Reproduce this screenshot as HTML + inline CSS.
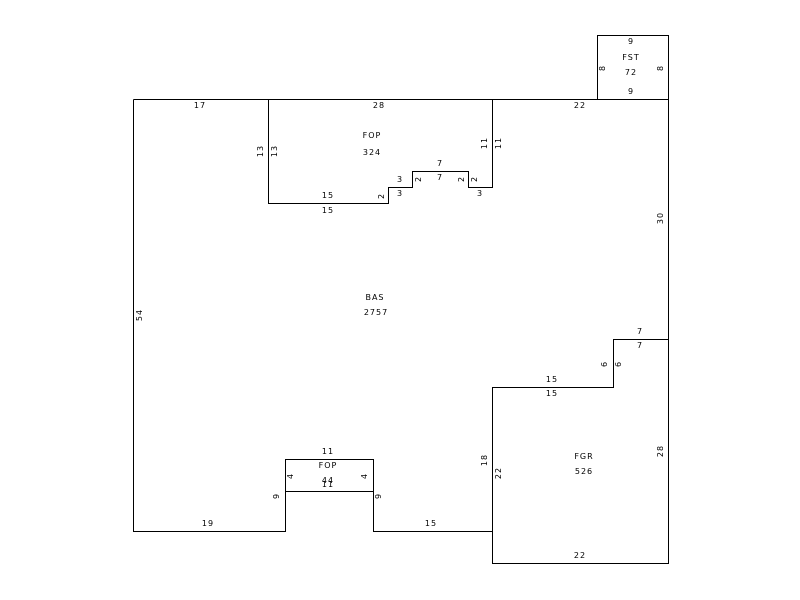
<!DOCTYPE html>
<html><head><style>
html,body{margin:0;padding:0;background:#fff;}
svg{display:block;}
text{font-family:"DejaVu Sans","Liberation Sans",sans-serif;font-size:8px;fill:#000;letter-spacing:1px;text-anchor:middle;}
</style></head><body>
<svg width="800" height="600" viewBox="0 0 800 600">
<g fill="none" stroke="#000" stroke-width="1">
<path d="M133.5 99.5 H668.5 V563.5 H492.5 V387.5 H613.5 V339.5 H668.5"/>
<path d="M133.5 99.5 V531.5 H285.5 V459.5 H373.5 V531.5 H492.5"/>
<path d="M285.5 491.5 H373.5"/>
<path d="M268.5 99.5 V203.5 H388.5 V187.5 H412.5 V171.5 H468.5 V187.5 H492.5 V99.5"/>
<path d="M597.5 99.5 V35.5 H668.5 V99.5"/>
</g>
<text x="200" y="108">17</text>
<text x="379" y="108">28</text>
<text x="580" y="108">22</text>
<text x="631" y="44">9</text>
<text x="631" y="75">72</text>
<text x="631" y="60">FST</text>
<text x="631" y="94">9</text>
<text transform="translate(605,68) rotate(-90)">8</text>
<text transform="translate(663,68) rotate(-90)">8</text>
<text x="372" y="138">FOP</text>
<text x="372" y="155">324</text>
<text transform="translate(263,151) rotate(-90)">13</text>
<text transform="translate(277,151) rotate(-90)">13</text>
<text transform="translate(487,143) rotate(-90)">11</text>
<text transform="translate(501,143) rotate(-90)">11</text>
<text x="328" y="198">15</text>
<text x="328" y="213">15</text>
<text transform="translate(384,196) rotate(-90)">2</text>
<text x="400" y="182">3</text>
<text x="400" y="196">3</text>
<text transform="translate(421,179) rotate(-90)">2</text>
<text x="440" y="166">7</text>
<text x="440" y="180">7</text>
<text transform="translate(464,179) rotate(-90)">2</text>
<text transform="translate(477,179) rotate(-90)">2</text>
<text x="480" y="196">3</text>
<text transform="translate(663,218) rotate(-90)">30</text>
<text transform="translate(142,315) rotate(-90)">54</text>
<text x="375" y="300">BAS</text>
<text x="376" y="315">2757</text>
<text x="640" y="334">7</text>
<text x="640" y="348">7</text>
<text transform="translate(607,364) rotate(-90)">6</text>
<text transform="translate(621,364) rotate(-90)">6</text>
<text x="552" y="382">15</text>
<text x="552" y="396">15</text>
<text transform="translate(487,460) rotate(-90)">18</text>
<text transform="translate(501,473) rotate(-90)">22</text>
<text x="584" y="459">FGR</text>
<text x="584" y="474">526</text>
<text transform="translate(663,451) rotate(-90)">28</text>
<text x="580" y="558">22</text>
<text x="328" y="454">11</text>
<text x="328" y="468">FOP</text>
<text x="328" y="483">44</text>
<text x="328" y="487">11</text>
<text transform="translate(293,476) rotate(-90)">4</text>
<text transform="translate(367,476) rotate(-90)">4</text>
<text transform="translate(279,496) rotate(-90)">9</text>
<text transform="translate(381,496) rotate(-90)">9</text>
<text x="208" y="526">19</text>
<text x="431" y="526">15</text>
</svg>
</body></html>
